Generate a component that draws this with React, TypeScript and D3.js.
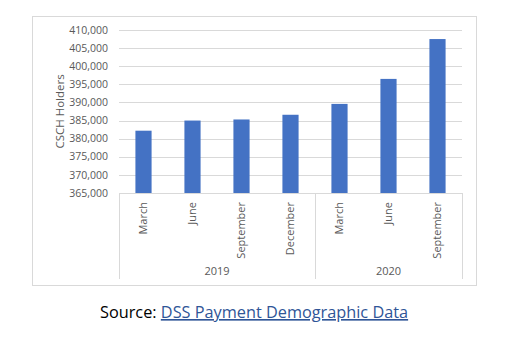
import React, { useEffect, useRef } from "react";
import * as d3 from "d3";

const width = 528;
const height = 352;

const months = ["March", "June", "September", "December", "March", "June", "September"];
const years = ["2019", "2019", "2019", "2019", "2020", "2020", "2020"];
const holders = [382200, 385000, 385300, 386600, 389600, 396500, 407500];
const yTicks = [365000, 370000, 375000, 380000, 385000, 390000, 395000, 400000, 405000, 410000];

const box = { left: 32, top: 16, right: 476, bottom: 285 };
const plot = { left: 119, right: 462, top: 30, bottom: 193 };
const font = "'Open Sans', 'Liberation Sans', sans-serif";
const textColor = "#595959";
const lineColor = "#D9D9D9";

const App = () => {
  const ref = useRef(null);

  const chart = () => {
    const svg = d3.select(ref.current);
    svg.selectAll("*").remove();
    svg.attr("width", width).attr("height", height).attr("viewBox", [0, 0, width, height]);

    svg.append("rect").attr("width", width).attr("height", height).attr("fill", "#fff");

    // chart frame
    svg.append("rect")
      .attr("x", box.left + 0.5)
      .attr("y", box.top + 0.5)
      .attr("width", box.right - box.left)
      .attr("height", box.bottom - box.top)
      .attr("fill", "none")
      .attr("stroke", lineColor);

    const keys = months.map((m, i) => `${years[i]}-${i}`);
    const x = d3.scaleBand().domain(keys).range([plot.left, plot.right]).paddingInner(0.67).paddingOuter(0.335);
    const y = d3.scaleLinear().domain([365000, 410000]).range([plot.bottom, plot.top]);

    // gridlines
    svg.append("g")
      .selectAll()
      .data(yTicks)
      .join("line")
      .attr("x1", plot.left)
      .attr("x2", plot.right)
      .attr("y1", d => Math.round(y(d)) + 0.5)
      .attr("y2", d => Math.round(y(d)) + 0.5)
      .attr("stroke", lineColor);

    // y tick labels
    svg.append("g")
      .selectAll()
      .data(yTicks)
      .join("text")
      .attr("x", plot.left - 11)
      .attr("y", d => y(d))
      .attr("dy", "0.35em")
      .attr("text-anchor", "end")
      .attr("font-family", font)
      .attr("font-size", 10.5)
      .attr("fill", textColor)
      .text(d => d3.format(",")(d));

    // y title
    svg.append("text")
      .attr("transform", `translate(60, ${(plot.top + plot.bottom) / 2}) rotate(-90)`)
      .attr("text-anchor", "middle")
      .attr("dy", "0.35em")
      .attr("font-family", font)
      .attr("font-size", 11.5)
      .attr("fill", textColor)
      .text("CSCH Holders");

    // bars
    svg.append("g")
      .attr("fill", "#4472C4")
      .selectAll()
      .data(holders)
      .join("rect")
      .attr("x", (d, i) => x(keys[i]))
      .attr("y", d => y(d))
      .attr("width", x.bandwidth())
      .attr("height", d => y(365000) - y(d));

    // category axis line + separators
    const sepBottom = 279;
    svg.append("line")
      .attr("x1", plot.left).attr("x2", plot.right)
      .attr("y1", plot.bottom + 0.5).attr("y2", plot.bottom + 0.5)
      .attr("stroke", lineColor);

    const yearGroups = d3.groups(keys, k => k.split("-")[0]);
    const step = x.step();
    const bounds = [plot.left];
    let acc = plot.left;
    yearGroups.forEach(([, ks]) => {
      acc += ks.length * step;
      bounds.push(acc);
    });
    svg.append("g")
      .selectAll()
      .data(bounds)
      .join("line")
      .attr("x1", d => Math.round(d) + 0.5)
      .attr("x2", d => Math.round(d) + 0.5)
      .attr("y1", plot.bottom)
      .attr("y2", sepBottom)
      .attr("stroke", lineColor);

    // month labels
    svg.append("g")
      .selectAll()
      .data(months)
      .join("text")
      .attr("transform", (d, i) => `translate(${x(keys[i]) + x.bandwidth() / 2}, 202) rotate(-90)`)
      .attr("text-anchor", "end")
      .attr("dy", "0.35em")
      .attr("font-family", font)
      .attr("font-size", 11)
      .attr("fill", textColor)
      .text(d => d);

    // year labels
    svg.append("g")
      .selectAll()
      .data(yearGroups)
      .join("text")
      .attr("x", (d, i) => (bounds[i] + bounds[i + 1]) / 2)
      .attr("y", 275)
      .attr("text-anchor", "middle")
      .attr("font-family", font)
      .attr("font-size", 11)
      .attr("fill", textColor)
      .text(d => d[0]);

    // source line
    const src = svg.append("text")
      .attr("x", 100)
      .attr("y", 318)
      .attr("font-family", font)
      .attr("font-size", 16.3)
      .attr("fill", "#000");
    src.append("tspan").text("Source: ");
    src.append("tspan")
      .attr("fill", "#2F5597")
      .attr("text-decoration", "underline")
      .text("DSS Payment Demographic Data");
  };

  useEffect(() => {
    chart();
  }, []);

  return (
    <svg ref={ref} style={{ position: "absolute", left: 0, top: 0 }} />
  );
};

export default App;
